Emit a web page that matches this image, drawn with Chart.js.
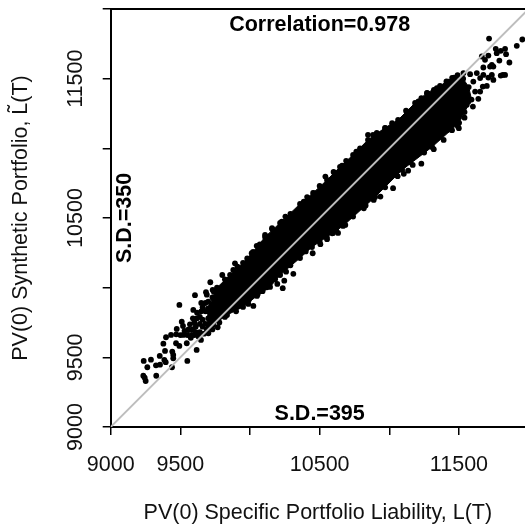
<!DOCTYPE html>
<html><head><meta charset="utf-8">
<style>html,body{margin:0;padding:0;background:#fff}#w{width:525px;height:524px;position:relative}</style>
<script src="https://cdn.jsdelivr.net/npm/chart.js@4"></script></head>
<body><div id="w"><canvas id="c" width="525" height="524"></canvas></div>
<script>
const xTitle = "PV(0) Specific Portfolio Liability, L(T)";
const yTitle = "PV(0) Synthetic Portfolio, L\u0303(T)";
const tickValues = [9000, 9500, 10000, 10500, 11000, 11500, 12000];
const xTickLabels = ["9000", "9500", "", "10500", "", "11500", ""];
const yTickLabels = ["9000", "9500", "", "10500", "", "11500", ""];
const notes = ["Correlation=0.978", "S.D.=395", "S.D.=350"];
const diagX = [9000, 12000];
const diagY = [9000, 12000];
// outline of the fully solid core of the cloud
const coreX = [9700,9763,9857,9950,10022,10108,10216,10359,10453,10553,10646,10740,10847,10969,11063,11185,11271,11364,11451,11530,11570,11590,11540,11501,11307,11092,10898,10668,10445,10359,10216,10144,10050,9950,9835,9735,9690,9700];
const coreY = [9850,10000,10091,10178,10257,10364,10465,10601,10680,10773,10867,10953,11061,11147,11204,11326,11398,11448,11506,11500,11440,11350,11260,11183,11010,10845,10651,10443,10292,10213,10091,10005,9941,9862,9804,9732,9700,9850];
// individually visible points
const pointsX = [9237,9289,9263,9325,9354,9327,9234,9244,9251,9352,9390,9385,9395,9440,9550,9442,9449,9449,9378,9397,9433,9469,9493,9493,9546,9617,9474,9510,9519,9521,9569,9605,9715,9684,9732,9593,9701,9768,9648,9582,9557,
9530,9550,9500,9470,9590,9610,9630,9600,9640,9620,9660,9680,9700,9720,9750,9700,9740,9660,9590,
11716,11955,11915,11862,11815,11831,11800,11790,11831,11838,11800,11764,11771,11711,11664,11687,11736,11723,11747,11675,11628,11736,11711,11747,11675,11700,11671,11652,11639,11580,11465,11424,11341,11328,11532,11603,11652,11568,11556,11616,
11491,11499,11319,11230,11168,11104,11135,11027,10936,10888,10817,10684,10618,10553,10505,10450,
11271,11192,11079,10972,10847,10883,10763,10661,10541,10458,10386,10254,10158,
9801,9880,9892,10012,10048,10108,10228,
10024,9988,10055,10235,10246,10311,10259,10196,10120,10596,10632,10551,11417,11364,11125,11209,
9640,9660,9680,9700,9720,9680,9650,9610,9640,9670,9700,9730,9760,9790,9760,9730,9790,9770,9600,9575,9560,9620,9650,9690,9740,
9780,9820,9900,9990,10090,10180,10290,10400,10500,10590,10740,10830,10970,11060,11150,11250,11390,11450,11540,11600,
9820,9910,9980,10070,10160,10290,10410,10500,10600,10690,10790,10910,11020,11120,11230,11320,11410,11490];
const pointsY = [9474,9483,9429,9443,9447,9368,9368,9354,9330,9510,9546,9481,9465,9429,9474,9541,9517,9493,9598,9644,9661,9601,9582,9876,9601,9553,9704,9756,9725,9661,9737,9946,10039,9967,9984,9840,9673,9716,9625,9661,9696,
9690,9660,9660,9665,9700,9680,9650,9750,9790,9820,9860,9830,9900,9870,9930,9780,9760,9720,9780,
11788,11781,11736,11616,11527,11527,11522,11630,11714,11676,11700,11714,11683,11666,11659,11635,11599,11587,11587,11580,11540,11527,11508,11491,11527,11448,11443,11407,11355,11532,11508,11479,11432,11396,11540,11479,11504,11336,11312,11407,
11161,11145,10994,10890,10881,10817,10840,10714,10654,10630,10570,10450,10414,10348,10312,10247,
11396,11312,11192,11145,11097,11097,10977,10876,10797,10678,10618,10510,10427,
10091,10127,10175,10247,10300,10379,10474,
9869,9883,9953,9996,10050,10099,10115,10027,10003,10393,10393,10362,11132,11097,11228,11336,
9740,9770,9740,9830,9790,9890,9830,9720,9680,9670,9710,9700,9800,9850,9880,9930,9960,9990,9660,9640,9700,9780,9890,9950,9970,
9750,9790,9830,9910,9975,10060,10160,10260,10330,10390,10510,10590,10720,10800,10900,10970,11060,11130,11220,11300,
10060,10150,10210,10310,10420,10530,10650,10730,10830,10910,11000,11110,11180,11270,11360,11420,11480,11525];

const zip = (a, b) => a.map((v, i) => ({x: v, y: b[i]}));
const FONT = '"Liberation Sans", Arial, sans-serif';
const annotate = {
  id: 'annotate',
  afterDatasetsDraw(ch) {
    const {ctx, scales: {x, y}} = ch;
    ctx.save();
    ctx.strokeStyle = '#000'; ctx.lineWidth = 2;
    ctx.beginPath(); ctx.moveTo(x.left, y.getPixelForValue(12000)); ctx.lineTo(x.right, y.getPixelForValue(12000)); ctx.stroke();
    ctx.fillStyle = '#000'; ctx.font = 'bold 21.5px ' + FONT;
    ctx.textAlign = 'center'; ctx.textBaseline = 'middle';
    ctx.fillText(notes[0], x.getPixelForValue(10500), y.getPixelForValue(11885));
    ctx.fillText(notes[1], x.getPixelForValue(10500), y.getPixelForValue(9090));
    ctx.translate(x.getPixelForValue(9105), y.getPixelForValue(10500));
    ctx.rotate(-Math.PI / 2);
    ctx.fillText(notes[2], 0, 0);
    ctx.restore();
  }
};
const scaleBase = () => ({
  type: 'linear', min: 9000,
  afterBuildTicks(s) { s.ticks = tickValues.filter(v => v <= s.max).map(v => ({value: v})); },
  grid: {drawOnChartArea: false, drawTicks: true, tickLength: 8, color: '#000', lineWidth: 1.5},
  border: {display: true, color: '#000', width: 2},
});
new Chart(document.getElementById('c'), {
  type: 'scatter',
  data: {datasets: [
    {label: 'diagonal', data: zip(diagX, diagY), showLine: true, borderColor: '#bdbdbd', borderWidth: 1.8, pointRadius: 0, order: 0},
    {label: 'core', data: zip(coreX, coreY), showLine: true, fill: 'shape', backgroundColor: '#000', borderColor: '#000', borderWidth: 1, pointRadius: 2.9, pointBackgroundColor: '#000', pointBorderWidth: 0, order: 2},
    {label: 'points', data: zip(pointsX, pointsY), pointRadius: 2.9, pointBackgroundColor: '#000', pointBorderWidth: 0, order: 1},
  ]},
  options: {
    responsive: false, animation: false,
    layout: {autoPadding: false, padding: {top: 9, right: 0, left: 0, bottom: 0}},
    plugins: {legend: {display: false}, tooltip: {enabled: false}},
    scales: {
      x: {...scaleBase(), max: 11974,
        afterFit(s) { s.height = 97; s.paddingRight = 0; s.paddingLeft = 0; },
        ticks: {autoSkip: false, maxRotation: 0, minRotation: 0, padding: 17, color: '#111', font: {family: FONT, size: 21.5},
          callback: (v) => xTickLabels[tickValues.indexOf(v)]},
        title: {display: true, text: xTitle, color: '#111', font: {family: FONT, size: 21.5, lineHeight: 1}, padding: {top: 16, bottom: 0}}},
      y: {...scaleBase(), max: 12000,
        afterFit(s) { s.width = 110.7; s.paddingTop = 0; s.paddingBottom = 0; },
        ticks: {autoSkip: false, minRotation: 90, maxRotation: 90, crossAlign: 'center', padding: -3, color: '#111', font: {family: FONT, size: 21.5},
          callback: (v) => yTickLabels[tickValues.indexOf(v)]},
        title: {display: true, text: yTitle, color: '#111', font: {family: FONT, size: 21.5}, padding: {top: 8, bottom: 0}}},
    }
  },
  plugins: [annotate]
});
</script></body></html>
